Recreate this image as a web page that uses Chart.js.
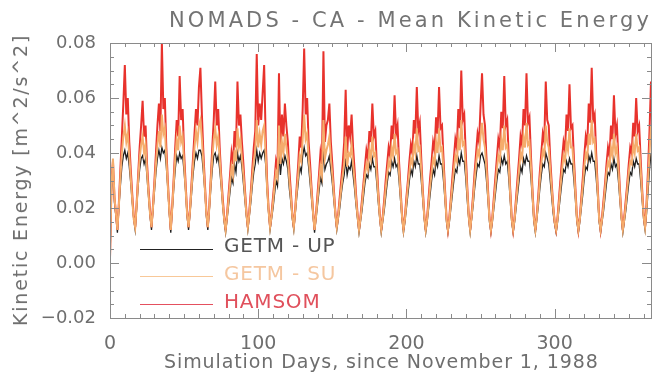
<!DOCTYPE html>
<html>
<head>
<meta charset="utf-8">
<script src="https://cdn.jsdelivr.net/npm/chart.js@4.4.1/dist/chart.umd.min.js"></script>
<style>
    body { margin: 0; background: #fff; }
    #wrap { position: relative; width: 655px; height: 376px; font-family: 'DejaVu Sans', sans-serif; color: #6e6e6e; }
    #chart { position: absolute; left: 0; top: 0; }
    .txt { position: absolute; white-space: nowrap; }
    #title { left: 169px; top: 8px; font-size: 21px; letter-spacing: 3.1px; color: #737373; }
    #xtitle { left: 164px; top: 350px; font-size: 19px; letter-spacing: 0.9px; }
    #ytitle { left: 20px; top: 180px; font-size: 19px; letter-spacing: 1.8px; transform: translate(-50%, -50%) rotate(-90deg); }
    .key { position: absolute; left: 140px; width: 73px; height: 0; border-top: 1.5px solid; }
    .keytxt { left: 224px; font-size: 20px; letter-spacing: 0.8px; }
</style>
</head>
<body>
<div id="wrap">
    <canvas id="chart" width="655" height="376"></canvas>
    <div class="txt" id="title">NOMADS - CA - Mean Kinetic Energy</div>
    <div class="txt" id="ytitle">Kinetic Energy [m^2/s^2]</div>
    <div class="txt" id="xtitle">Simulation Days, since November 1, 1988</div>
    <div class="key" style="top:249px;border-color:#222;"></div>
    <div class="txt keytxt" style="top:233px;color:#555;">GETM - UP</div>
    <div class="key" style="top:276px;border-color:#f8c898;"></div>
    <div class="txt keytxt" style="top:261px;color:#f5c7a0;">GETM - SU</div>
    <div class="key" style="top:304px;border-color:#e4505e;"></div>
    <div class="txt keytxt" style="top:289px;color:#e0505c;">HAMSOM</div>
</div>
<script>
// one value per simulation day (0 .. 365)
const days = Array.from({ length: 366 }, (_, i) => i);

const getmUp = [
    .001, .026, .036, .022, .017,
    .011, .020, .028, .035, .039, .041, .038, .040, .035, .029, .022, .016,
    .012, .020, .028, .034, .038, .039, .036, .038, .031, .024, .017,
    .012, .019, .026, .033, .038, .041, .038, .042, .040, .041, .035, .027, .018,
    .011, .019, .027, .034, .039, .037, .040, .038, .039, .033, .026, .017,
    .012, .018, .025, .032, .037, .040, .038, .041, .041, .039, .033, .026, .017,
    .012, .019, .027, .034, .039, .040, .037, .039, .034, .028, .021, .015,
    .011, .016, .021, .026, .031, .029, .036, .033, .040, .037, .039, .035, .029, .023, .017,
    .012, .017, .022, .028, .033, .036, .041, .037, .040, .038, .040, .041, .036, .026, .018,
    .012, .016, .020, .025, .030, .028, .040, .032, .038, .036, .039, .037, .034, .027, .022, .016,
    .012, .018, .024, .029, .035, .033, .039, .042, .039, .040, .035, .029, .023, .017,
    .011, .016, .021, .026, .031, .029, .041, .034, .036, .037, .039, .034, .029, .023, .017,
    .012, .016, .020, .025, .029, .032, .038, .032, .035, .034, .037, .032, .027, .021, .016,
    .011, .015, .019, .024, .029, .032, .031, .036, .034, .038, .035, .035, .029, .022, .016,
    .011, .015, .019, .024, .029, .033, .032, .037, .035, .038, .035, .036, .030, .023, .016,
    .011, .015, .020, .025, .030, .034, .032, .037, .035, .039, .036, .036, .030, .023, .016,
    .011, .015, .020, .025, .030, .034, .032, .037, .035, .039, .036, .036, .030, .023, .015,
    .011, .015, .020, .025, .030, .034, .033, .038, .036, .040, .037, .037, .031, .023, .016,
    .011, .016, .021, .027, .032, .036, .035, .039, .040, .038, .036, .030, .023, .015,
    .011, .015, .020, .025, .030, .034, .033, .038, .036, .039, .036, .037, .031, .023, .015,
    .011, .015, .020, .025, .030, .035, .033, .038, .036, .039, .037, .037, .031, .023, .015,
    .011, .016, .021, .027, .032, .036, .035, .040, .038, .036, .030, .024, .018, .014,
    .011, .015, .020, .025, .030, .034, .033, .037, .035, .038, .036, .036, .030, .023, .015,
    .011, .015, .020, .025, .031, .035, .034, .039, .037, .040, .037, .037, .031, .024, .015,
    .011, .015, .019, .024, .029, .033, .032, .036, .034, .038, .035, .036, .030, .023, .016,
    .011, .015, .019, .024, .029, .033, .032, .037, .035, .038, .036, .036, .030, .023, .016,
    .012, .018, .026, .034, .040
];

const getmSu = [
    .002, .028, .038, .024, .018,
    .012, .021, .031, .040, .046, .050, .044, .047, .039, .031, .023, .016,
    .013, .021, .030, .038, .043, .046, .040, .043, .033, .025, .018,
    .013, .020, .028, .036, .043, .048, .042, .054, .047, .049, .038, .028, .019,
    .012, .020, .029, .038, .045, .041, .050, .044, .046, .036, .027, .018,
    .013, .019, .027, .035, .042, .048, .044, .050, .052, .045, .036, .027, .018,
    .013, .020, .029, .038, .045, .049, .043, .046, .038, .030, .022, .016,
    .012, .017, .023, .029, .035, .032, .041, .037, .049, .042, .045, .038, .032, .025, .018,
    .013, .018, .024, .031, .037, .041, .052, .042, .047, .043, .048, .050, .040, .027, .019,
    .013, .017, .022, .028, .033, .031, .050, .036, .044, .040, .047, .042, .038, .030, .024, .017,
    .013, .019, .026, .032, .039, .037, .045, .054, .045, .047, .038, .032, .025, .018,
    .012, .017, .023, .029, .035, .032, .052, .038, .041, .043, .046, .038, .032, .025, .018,
    .013, .017, .022, .027, .032, .036, .046, .035, .040, .039, .043, .036, .030, .023, .017,
    .012, .016, .021, .027, .032, .036, .034, .041, .038, .046, .039, .040, .032, .024, .017,
    .012, .016, .021, .027, .032, .037, .035, .042, .039, .047, .040, .041, .033, .025, .017,
    .012, .016, .022, .028, .033, .038, .036, .043, .040, .049, .041, .042, .034, .025, .017,
    .012, .016, .022, .028, .033, .038, .036, .044, .040, .049, .041, .042, .034, .025, .016,
    .012, .016, .022, .028, .034, .039, .037, .045, .041, .052, .043, .044, .035, .026, .017,
    .012, .017, .023, .030, .036, .041, .039, .046, .051, .045, .042, .034, .025, .016,
    .012, .016, .022, .028, .034, .039, .037, .045, .041, .050, .042, .043, .035, .025, .016,
    .012, .016, .022, .028, .034, .040, .038, .046, .042, .051, .043, .044, .035, .025, .016,
    .012, .017, .023, .030, .036, .041, .039, .050, .044, .042, .034, .027, .020, .015,
    .012, .016, .022, .028, .034, .039, .037, .044, .041, .049, .042, .042, .034, .025, .016,
    .012, .016, .022, .028, .035, .040, .038, .047, .043, .052, .044, .045, .036, .026, .016,
    .012, .016, .021, .027, .033, .037, .035, .042, .039, .047, .040, .042, .034, .025, .017,
    .012, .016, .021, .027, .033, .037, .036, .043, .040, .047, .041, .042, .034, .025, .017,
    .013, .020, .030, .040, .050
];

const hamsom = [
    .002, .030, .037, .024, .018,
    .012, .022, .034, .046, .058, .072, .054, .060, .044, .034, .025, .017,
    .013, .022, .032, .042, .050, .059, .046, .050, .036, .027, .019,
    .013, .021, .030, .040, .050, .058, .048, .080, .056, .060, .042, .030, .020,
    .012, .021, .031, .042, .052, .046, .068, .052, .056, .040, .029, .019,
    .013, .020, .029, .038, .047, .056, .050, .064, .071, .054, .040, .029, .019,
    .013, .021, .031, .042, .052, .066, .050, .056, .042, .032, .024, .017,
    .012, .018, .025, .032, .040, .036, .048, .042, .066, .050, .054, .044, .036, .027, .019,
    .013, .019, .026, .034, .042, .048, .076, .050, .058, .052, .062, .072, .046, .030, .020,
    .013, .018, .024, .030, .037, .034, .069, .040, .054, .046, .058, .050, .044, .034, .026, .018,
    .013, .020, .028, .036, .046, .042, .056, .078, .054, .060, .044, .036, .027, .019,
    .012, .018, .025, .032, .040, .036, .077, .044, .050, .052, .058, .044, .036, .027, .019,
    .013, .018, .024, .030, .036, .044, .063, .040, .050, .046, .054, .042, .034, .025, .018,
    .012, .017, .023, .029, .035, .041, .038, .048, .044, .058, .046, .048, .036, .026, .018,
    .012, .017, .023, .030, .036, .042, .039, .050, .045, .061, .047, .050, .037, .027, .018,
    .012, .017, .024, .030, .037, .043, .040, .052, .047, .064, .048, .051, .038, .027, .018,
    .012, .017, .024, .031, .037, .044, .041, .053, .047, .064, .049, .050, .038, .027, .017,
    .012, .017, .024, .031, .038, .045, .042, .056, .049, .070, .052, .054, .040, .028, .018,
    .012, .018, .025, .033, .040, .047, .044, .057, .069, .054, .050, .038, .027, .017,
    .012, .017, .024, .031, .038, .045, .042, .055, .049, .068, .050, .052, .039, .027, .017,
    .012, .017, .024, .031, .038, .046, .043, .056, .050, .069, .051, .053, .039, .027, .017,
    .012, .018, .025, .033, .040, .047, .044, .066, .052, .050, .038, .029, .021, .015,
    .012, .017, .024, .031, .038, .044, .041, .054, .048, .065, .049, .050, .038, .027, .017,
    .012, .017, .024, .031, .039, .046, .043, .058, .051, .071, .052, .054, .040, .028, .017,
    .012, .017, .023, .029, .036, .042, .039, .050, .045, .061, .047, .050, .038, .027, .018,
    .012, .017, .023, .029, .036, .042, .040, .051, .046, .060, .048, .050, .038, .027, .018,
    .013, .022, .034, .048, .066
];

const xTickLabels = [0, 100, 200, 300];
const yTickLabels = [-0.02, 0.00, 0.02, 0.04, 0.06, 0.08];

const toPoints = vals => vals.map((v, i) => ({ x: days[i], y: v }));

// IDL-style frame with inward ticks on all four sides
const boxTicks = {
    id: 'boxTicks',
    afterDatasetsDraw(chart) {
        const { ctx, chartArea: a, scales: { x, y } } = chart;
        ctx.save();
        ctx.strokeStyle = '#8a8a8a';
        ctx.lineWidth = 1;
        ctx.strokeRect(Math.round(a.left) + 0.5, Math.round(a.top) + 0.5, Math.round(a.right - a.left), Math.round(a.bottom - a.top));
        ctx.beginPath();
        for (let d = 0; d <= 365; d += 10) {
            const px = Math.round(x.getPixelForValue(d)) + 0.5;
            const len = d % 100 === 0 ? 9 : 4;
            ctx.moveTo(px, a.bottom); ctx.lineTo(px, a.bottom - len);
            ctx.moveTo(px, a.top); ctx.lineTo(px, a.top + len);
        }
        for (let k = -4; k <= 16; k++) {
            const py = Math.round(y.getPixelForValue(k * 0.005)) + 0.5;
            const len = k % 4 === 0 ? 9 : 4;
            ctx.moveTo(a.left, py); ctx.lineTo(a.left + len, py);
            ctx.moveTo(a.right, py); ctx.lineTo(a.right - len, py);
        }
        ctx.stroke();
        ctx.restore();
    }
};

const ctx = document.getElementById("chart").getContext("2d");

new Chart(ctx, {
    type: 'line',
    data: {
        datasets: [
            {
                label: 'GETM - UP',
                data: toPoints(getmUp),
                borderColor: '#1e1e1e',
                borderWidth: 1.3,
                pointRadius: 0,
                order: 3
            },
            {
                label: 'GETM - SU',
                data: toPoints(getmSu),
                borderColor: '#f5ac6c',
                borderWidth: 2,
                pointRadius: 0,
                order: 1
            },
            {
                label: 'HAMSOM',
                data: toPoints(hamsom),
                borderColor: '#e8322c',
                borderWidth: 2,
                pointRadius: 0,
                order: 2
            }
        ]
    },
    options: {
        responsive: false,
        animation: false,
        devicePixelRatio: 1,
        layout: { padding: { top: 43, right: 4, left: 0, bottom: 0 } },
        plugins: {
            legend: { display: false },
            title: { display: false },
            tooltip: { enabled: false }
        },
        scales: {
            x: {
                type: 'linear',
                min: 0,
                max: 365,
                grid: { display: false },
                border: { display: false },
                afterFit: s => { s.height = 58; },
                afterBuildTicks: s => { s.ticks = xTickLabels.map(v => ({ value: v })); },
                ticks: {
                    color: '#6e6e6e',
                    padding: 7,
                    maxRotation: 0,
                    font: { family: 'DejaVu Sans', size: 19 }
                }
            },
            y: {
                min: -0.02,
                max: 0.08,
                grid: { display: false },
                border: { display: false },
                afterFit: s => { s.width = 110; },
                afterBuildTicks: s => { s.ticks = yTickLabels.map(v => ({ value: v })); },
                ticks: {
                    color: '#6e6e6e',
                    padding: 6,
                    font: { family: 'DejaVu Sans', size: 18 },
                    callback: v => (v < -1e-9 ? '\u2212' : '') + Math.abs(v).toFixed(2)
                }
            }
        }
    },
    plugins: [boxTicks]
});
</script>
</body>
</html>
